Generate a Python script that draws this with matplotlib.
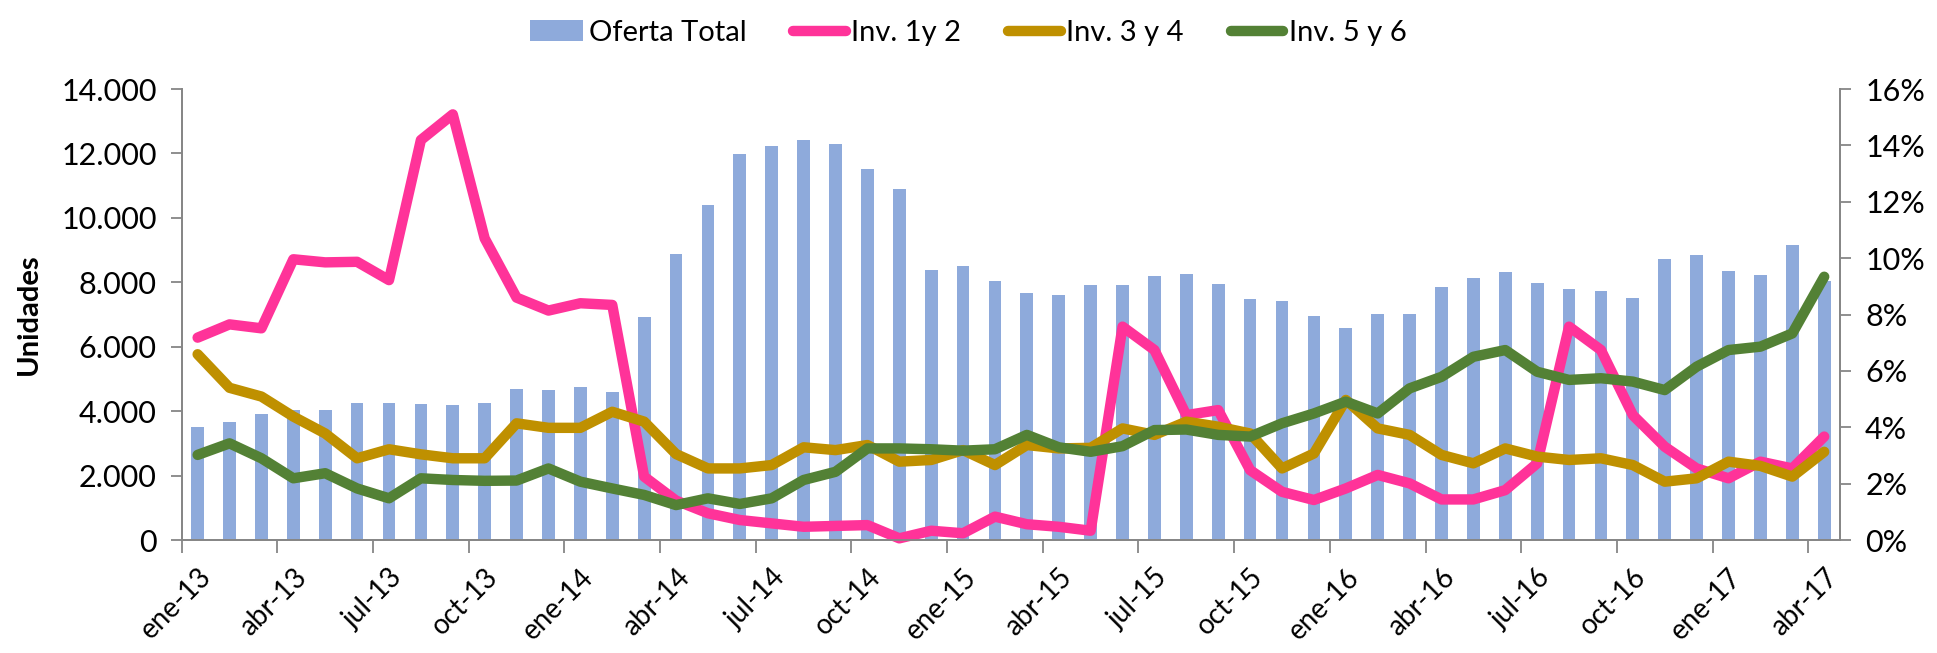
import matplotlib.pyplot as plt
from matplotlib.ticker import FuncFormatter

plt.rcParams['font.family'] = ['Lato', 'DejaVu Sans']

# Datos mensuales ene-13 .. abr-17
meses = ['ene', 'feb', 'mar', 'abr', 'may', 'jun', 'jul', 'ago', 'sep', 'oct', 'nov', 'dic']
periodos = [f'{m}-{a}' for a in range(13, 18) for m in meses][:52]

oferta_total = [3517, 3672, 3911, 4035, 4030, 4262, 4241, 4211, 4180, 4241,
                4687, 4646, 4749, 4604, 6922, 8868, 10409, 11981, 12240, 12405,
                12302, 11516, 10884, 8370, 8494, 8039, 7656, 7594, 7915, 7915,
                8195, 8257, 7936, 7481, 7429, 6953, 6570, 7015, 7005, 7863,
                8143, 8319, 7988, 7791, 7729, 7522, 8722, 8846, 8350, 8226,
                9147, 8039]

inv_1y2 = [7.18, 7.65, 7.51, 9.96, 9.85, 9.87, 9.22, 14.19, 15.10, 10.70,
           8.60, 8.14, 8.40, 8.34, 2.25, 1.40, 0.95, 0.71, 0.59, 0.47,
           0.50, 0.53, 0.06, 0.33, 0.24, 0.83, 0.56, 0.47, 0.33, 7.57,
           6.74, 4.43, 4.61, 2.48, 1.71, 1.42, 1.83, 2.31, 2.01, 1.44,
           1.44, 1.77, 2.72, 7.57, 6.74, 4.43, 3.31, 2.54, 2.19, 2.78,
           2.54, 3.67]

inv_3y4 = [6.59, 5.40, 5.09, 4.38, 3.78, 2.90, 3.22, 3.04, 2.90, 2.90,
           4.14, 3.98, 3.98, 4.55, 4.20, 3.05, 2.54, 2.54, 2.66, 3.29,
           3.19, 3.37, 2.78, 2.84, 3.19, 2.66, 3.37, 3.25, 3.27, 3.96,
           3.73, 4.20, 4.02, 3.78, 2.54, 3.07, 4.97, 3.96, 3.73, 3.02,
           2.72, 3.25, 2.96, 2.84, 2.90, 2.66, 2.07, 2.19, 2.78, 2.63,
           2.25, 3.13]

inv_5y6 = [3.02, 3.43, 2.90, 2.19, 2.37, 1.83, 1.48, 2.19, 2.13, 2.10,
           2.11, 2.54, 2.07, 1.83, 1.60, 1.24, 1.48, 1.28, 1.48, 2.13,
           2.42, 3.25, 3.25, 3.22, 3.17, 3.22, 3.73, 3.29, 3.13, 3.33,
           3.90, 3.92, 3.73, 3.67, 4.14, 4.49, 4.91, 4.49, 5.38, 5.79,
           6.50, 6.74, 5.97, 5.68, 5.74, 5.62, 5.32, 6.15, 6.74, 6.86,
           7.33, 9.34]

x = list(range(len(periodos)))

fig, ax = plt.subplots(figsize=(19.37, 6.53), dpi=100)
fig.subplots_adjust(left=0.0938, right=0.950, bottom=0.173, top=0.8637)

barras = ax.bar(x, oferta_total, width=0.4, color='#8EAADB', label='Oferta Total', zorder=2)
ax.set_ylim(0, 14000)
ax.set_xlim(-0.5, len(x) - 0.5)
ax.yaxis.set_major_formatter(FuncFormatter(lambda v, p: f'{int(v):,}'.replace(',', '.')))
ax.set_yticks(range(0, 14001, 2000))
ax.set_ylabel('Unidades', fontsize=21, fontweight='bold', labelpad=14)

ax2 = ax.twinx()
estilo = dict(lw=7.5, clip_on=False, solid_capstyle='round', solid_joinstyle='round')
l1, = ax2.plot(x, inv_1y2, color='#FF3399', label='Inv. 1y 2', **estilo)
l2, = ax2.plot(x, inv_3y4, color='#BF9000', label='Inv. 3 y 4', **estilo)
l3, = ax2.plot(x, inv_5y6, color='#538135', label='Inv. 5 y 6', **estilo)
ax2.set_ylim(0, 16)
ax2.set_yticks(range(0, 17, 2))
ax2.yaxis.set_major_formatter(FuncFormatter(lambda v, p: f'{int(v)}%'))

# ejes grises
for a in (ax, ax2):
    a.spines['top'].set_visible(False)
    for s in ('left', 'right', 'bottom'):
        a.spines[s].set_color('#868686')
        a.spines[s].set_linewidth(1.3)
    a.tick_params(axis='y', colors='#868686', labelcolor='black', labelsize=22,
                  length=8, width=1.3, pad=10)

# etiquetas cada 3 meses en el centro de la categoria, marcas en los bordes
pos = x[::3]
ax.set_xticks(pos)
ax.set_xticklabels([periodos[i] for i in pos], rotation=45, ha='right',
                   rotation_mode='anchor', fontsize=20)
ax.tick_params(axis='x', which='major', length=0, pad=17)
ax.set_xticks([p - 0.5 for p in pos], minor=True)
ax.tick_params(axis='x', which='minor', length=9, width=1.3, color='#868686')

fig.legend(handles=[barras, l1, l2, l3], loc='upper center', ncol=4, frameon=False,
           bbox_to_anchor=(0.5, 1.01), fontsize=21, handlelength=1.8,
           handletextpad=0.2, columnspacing=1.6)

fig.savefig('out.png', dpi=100)
